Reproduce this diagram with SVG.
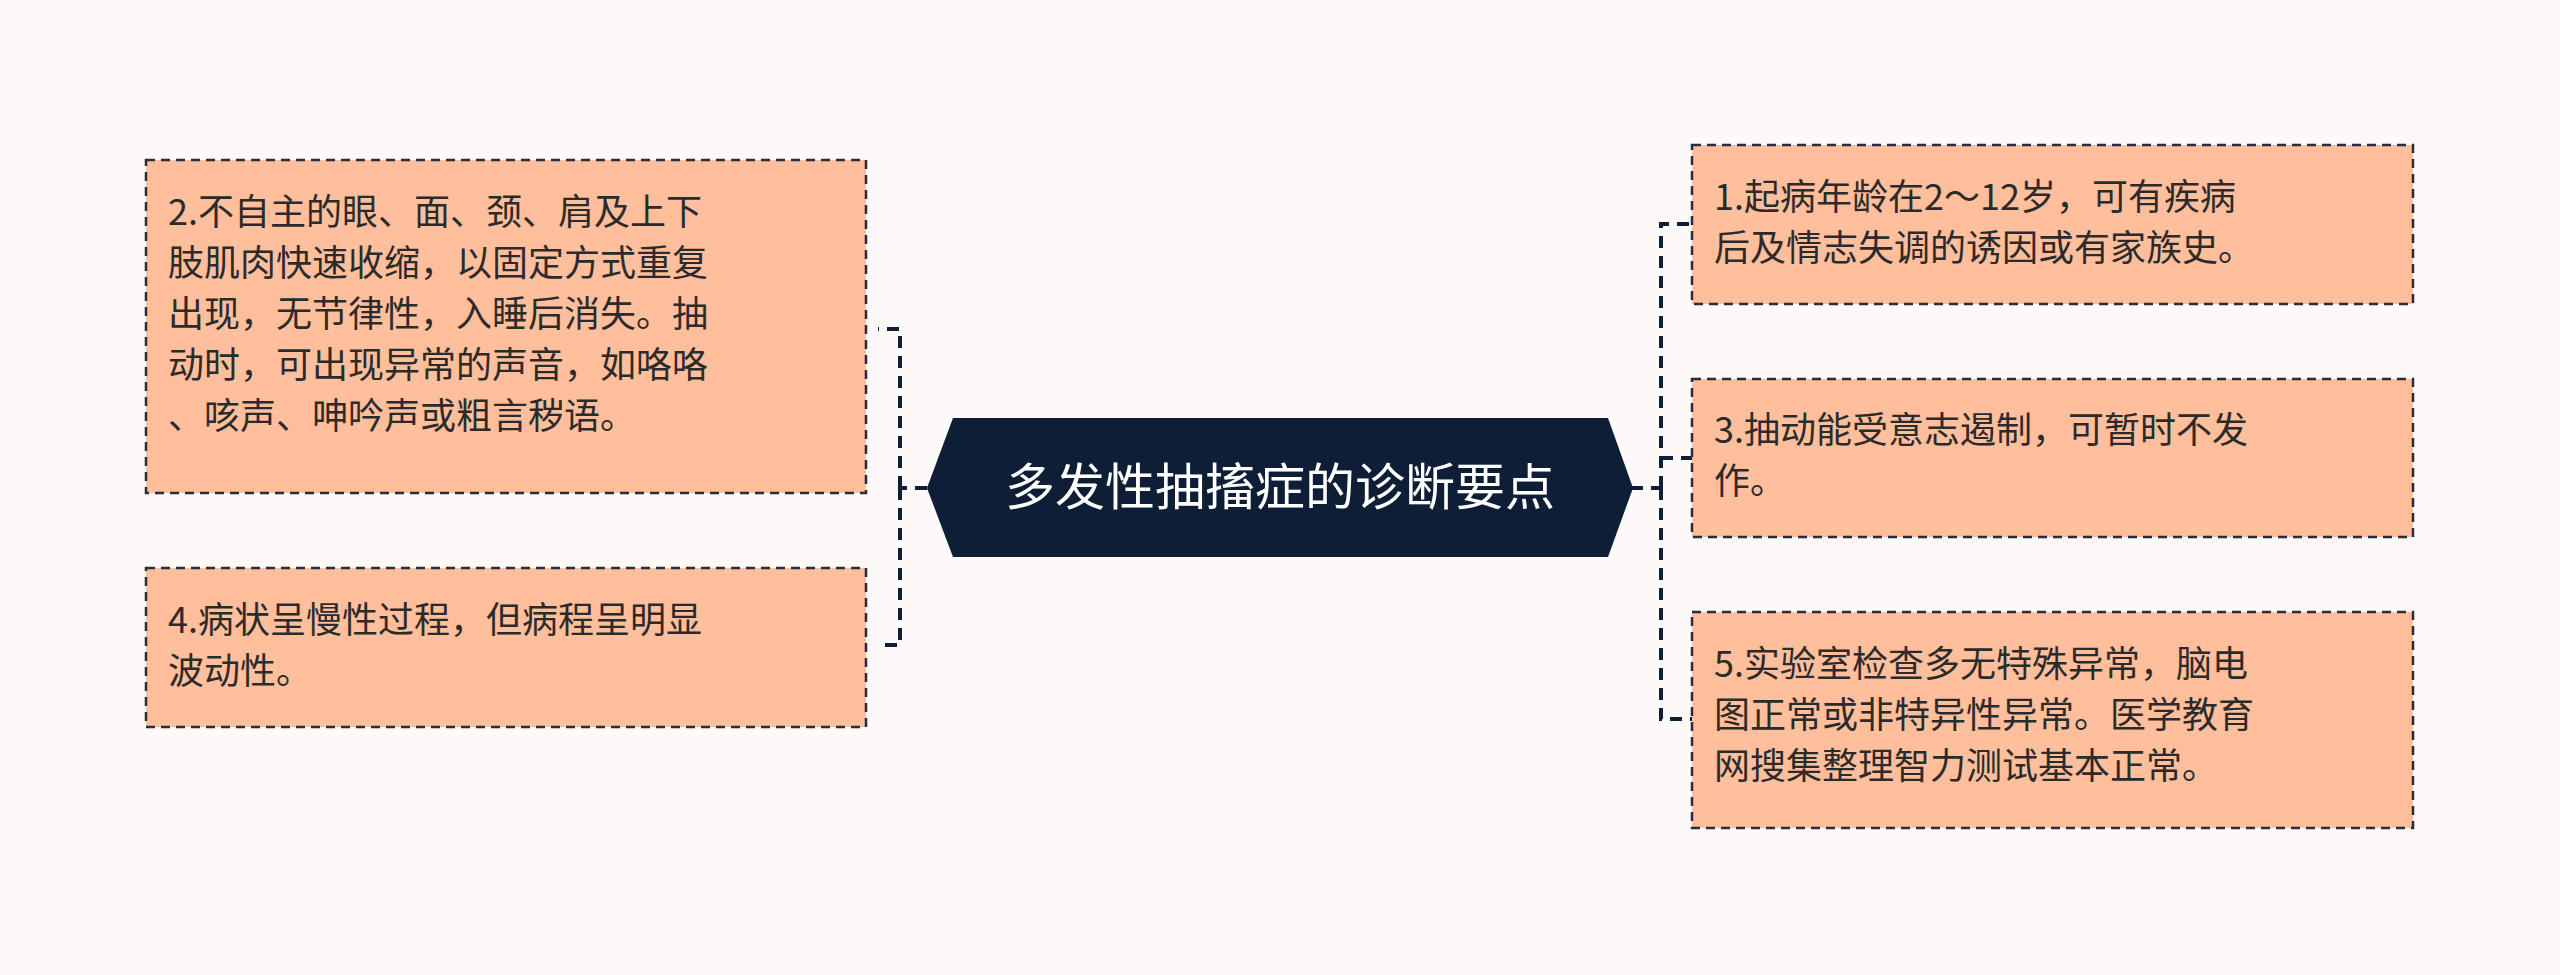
<svg xmlns="http://www.w3.org/2000/svg" width="2560" height="975" viewBox="0 0 2560 975">
<style>
.n{fill:#FFBE9C;stroke:#2B2B3A;stroke-width:2.5;stroke-dasharray:9 6}
.t{font-family:"Noto Sans CJK SC","Noto Sans",sans-serif;font-size:36px;fill:#2B2B2B}
.c{fill:none;stroke:#0D1E36;stroke-width:4;stroke-dasharray:12 8}
</style>
<rect width="2560" height="975" fill="#FDF9F8"/>
<g id="connectors">
<path class="c" d="M927 488H900M900 488V329H878M900 488V645H878"/>
<path class="c" d="M1631 488H1661M1661 488V224H1692M1661 458H1692M1661 488V719H1692"/>
</g>
<g id="center">
<polygon points="927,488 953,418 1608,418 1633,488 1608,557 953,557" fill="#0D1E36"/>
<text x="1280" y="505" text-anchor="middle" font-family="Noto Sans CJK SC,sans-serif" font-size="50" fill="#fff">多发性抽搐症的诊断要点</text>
</g>
<g id="n2">
<rect class="n" x="146" y="160" width="720" height="333"/>
<text class="t" x="168"><tspan y="225">2.不自主的眼、面、颈、肩及上下</tspan><tspan x="168" y="276">肢肌肉快速收缩，以固定方式重复</tspan><tspan x="168" y="327">出现，无节律性，入睡后消失。抽</tspan><tspan x="168" y="378">动时，可出现异常的声音，如咯咯</tspan><tspan x="168" y="429">、咳声、呻吟声或粗言秽语。</tspan></text>
</g>
<g id="n4">
<rect class="n" x="146" y="568" width="720" height="159"/>
<text class="t" x="168"><tspan y="633">4.病状呈慢性过程，但病程呈明显</tspan><tspan x="168" y="684">波动性。</tspan></text>
</g>
<g id="n1">
<rect class="n" x="1692" y="145" width="721" height="159"/>
<text class="t" x="1714"><tspan y="210">1.起病年龄在2～12岁，可有疾病</tspan><tspan x="1714" y="261">后及情志失调的诱因或有家族史。</tspan></text>
</g>
<g id="n3">
<rect class="n" x="1692" y="379" width="721" height="158"/>
<text class="t" x="1714"><tspan y="443">3.抽动能受意志遏制，可暂时不发</tspan><tspan x="1714" y="494">作。</tspan></text>
</g>
<g id="n5">
<rect class="n" x="1692" y="612" width="721" height="216"/>
<text class="t" x="1714"><tspan y="677">5.实验室检查多无特殊异常，脑电</tspan><tspan x="1714" y="728">图正常或非特异性异常。医学教育</tspan><tspan x="1714" y="779">网搜集整理智力测试基本正常。</tspan></text>
</g>
</svg>
